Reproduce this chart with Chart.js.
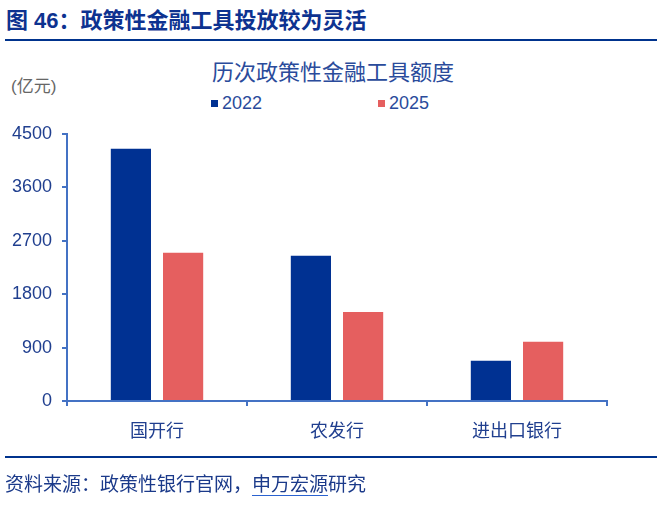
<!DOCTYPE html>
<html>
<head>
<meta charset="utf-8">
<script src="https://cdn.jsdelivr.net/npm/chart.js@4.4.1/dist/chart.umd.min.js"></script>
<style>
  body { margin: 0; background: #fff; font-family: "Liberation Sans", "Noto Sans CJK SC", sans-serif; }
  #wrap { position: relative; width: 666px; height: 512px; overflow: hidden; }
  #fig-title { position: absolute; left: 6px; top: 6px; font-size: 22px; font-weight: bold; color: #0d3290; white-space: nowrap; line-height: 30px; }
  .rule { position: absolute; left: 5px; width: 652px; height: 2px; background: #00338d; }
  #chart-title { position: absolute; left: 0; width: 666px; top: 59px; text-align: center; font-size: 22px; color: #2a4b9b; line-height: 28px; }
  #unit { position: absolute; left: 11px; top: 76px; font-size: 17px; color: #666; line-height: 22px; }
  #legend { position: absolute; top: 92px; left: 0; height: 22px; }
  .leg { position: absolute; top: 0; white-space: nowrap; font-size: 18px; color: #2a4b9b; line-height: 22px; }
  .leg i { display: inline-block; width: 7px; height: 7px; margin-right: 4px; vertical-align: 2px; }
  #source { position: absolute; left: 5px; top: 471px; font-size: 19px; color: #1b3a8a; white-space: nowrap; line-height: 28px; }
  #source u { text-decoration: none; border-bottom: 1.5px solid #2a62d0; }
  canvas { position: absolute; left: 0; top: 0; }
</style>
</head>
<body>
<div id="wrap">
  <div id="fig-title">图 46：政策性金融工具投放较为灵活</div>
  <div class="rule" style="top:39px"></div>
  <div id="chart-title">历次政策性金融工具额度</div>
  <div id="unit">(亿元)</div>
  <div id="legend"></div>
  <canvas id="barChart" width="666" height="512"></canvas>
  <div class="rule" style="top:456px"></div>
  <div id="source">资料来源：政策性银行官网，<u>申万宏源</u>研究</div>
</div>
<script>
// === DATA ===
const banks = ["国开行", "农发行", "进出口银行"];
const years = ["2022", "2025"];
const quota2022 = [4250, 2450, 680];
const quota2025 = [2500, 1500, 1000];
const yTicks = [0, 900, 1800, 2700, 3600, 4500];

const barColors = ["#003192", "#e55f5f"];
const axisColor = "#4472c4";
const labelColor = "#203f8f";
const baseFont = '"Liberation Sans", "Noto Sans CJK SC", sans-serif';

// === LEGEND (html) ===
const legendX = [211, 378];
const legend = document.getElementById("legend");
years.forEach((y, i) => {
    const item = document.createElement("div");
    item.className = "leg";
    item.style.left = legendX[i] + "px";
    item.innerHTML = `<i style="background:${barColors[i]}"></i>${y}`;
    legend.appendChild(item);
});

// === CHART ===
const ctx = document.getElementById("barChart").getContext("2d");
new Chart(ctx, {
    type: "bar",
    data: {
        labels: banks,
        datasets: [
            { label: years[0], data: quota2022, backgroundColor: barColors[0] },
            { label: years[1], data: quota2025, backgroundColor: barColors[1] }
        ]
    },
    options: {
        responsive: false,
        animation: false,
        layout: { padding: { top: 134, left: 0, right: 59, bottom: 71 } },
        datasets: {
            bar: { categoryPercentage: 0.58, barPercentage: 0.77 }
        },
        plugins: {
            legend: { display: false },
            title: { display: false },
            tooltip: { enabled: false }
        },
        scales: {
            x: {
                grid: { offset: true, drawOnChartArea: false, drawTicks: true, tickLength: 5, color: axisColor, lineWidth: 2 },
                border: { display: true, color: axisColor, width: 2 },
                ticks: { color: labelColor, font: { family: baseFont, size: 18 }, padding: 15 },
                afterFit: function (scale) { scale.height = 40; }
            },
            y: {
                min: 0,
                max: 4500,
                afterBuildTicks: function (scale) { scale.ticks = yTicks.map(v => ({ value: v })); },
                grid: { drawOnChartArea: false, drawTicks: true, tickLength: 5, color: axisColor, lineWidth: 2 },
                border: { display: true, color: axisColor, width: 2 },
                ticks: {
                    color: labelColor,
                    font: { family: baseFont, size: 18 },
                    padding: 10,
                    callback: value => String(value)
                },
                afterFit: function (scale) { scale.width = 67; }
            }
        }
    }
});
</script>
</body>
</html>
